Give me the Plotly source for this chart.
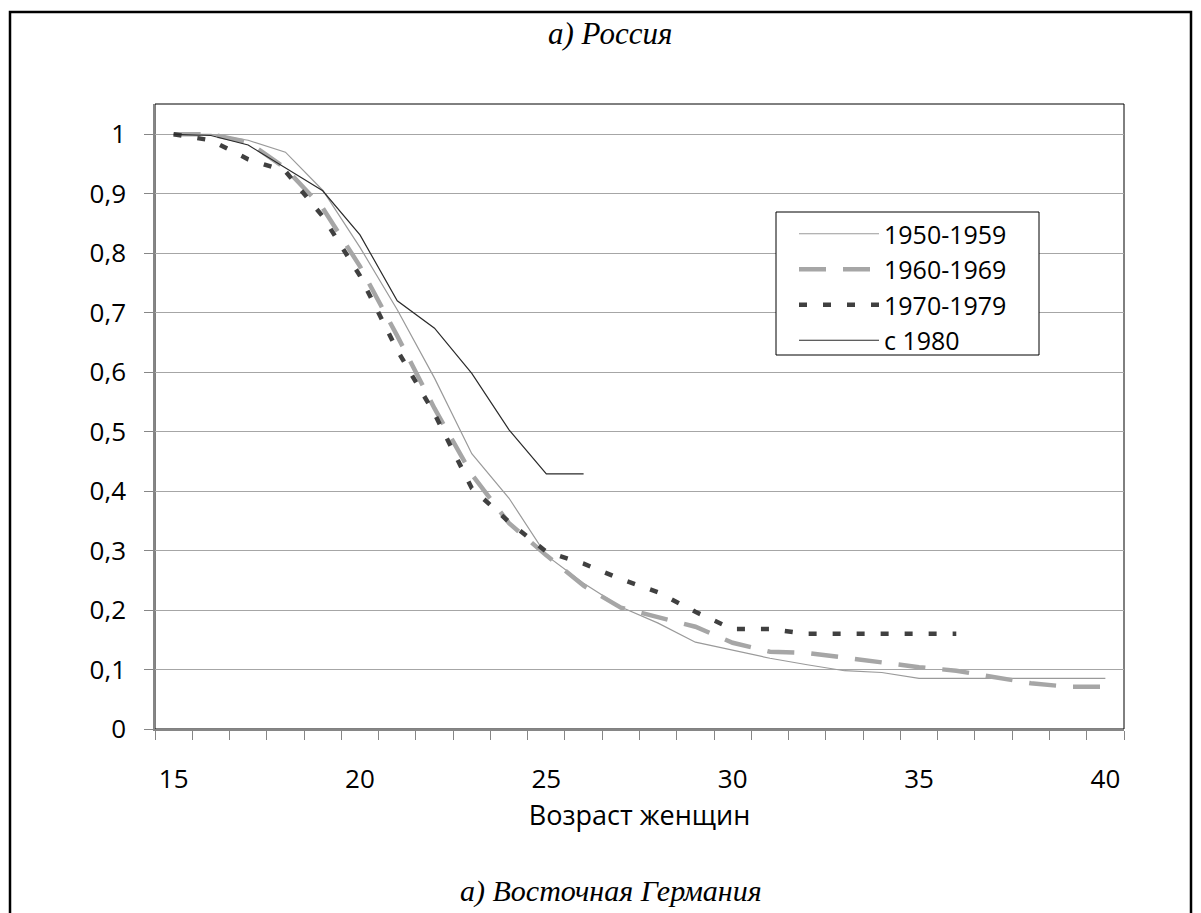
import plotly.graph_objects as go

# ---- data ----
ages_1950 = list(range(15, 41))
v_1950 = [1.0, 1.0, 0.99, 0.97, 0.906, 0.81, 0.705, 0.59, 0.463, 0.388, 0.292,
          0.245, 0.205, 0.178, 0.146, 0.132, 0.119, 0.108, 0.098, 0.095, 0.085,
          0.085, 0.085, 0.085, 0.085, 0.085]

ages_1960 = list(range(15, 41))
v_1960 = [1.0, 1.0, 0.987, 0.943, 0.876, 0.778, 0.661, 0.539, 0.428, 0.346, 0.292,
          0.241, 0.204, 0.188, 0.172, 0.145, 0.13, 0.128, 0.12, 0.112, 0.104,
          0.098, 0.088, 0.077, 0.071, 0.071]

ages_1970 = list(range(15, 37))
v_1970 = [1.0, 0.99, 0.958, 0.938, 0.862, 0.762, 0.637, 0.53, 0.405, 0.348, 0.298,
          0.278, 0.252, 0.23, 0.197, 0.168, 0.168, 0.16, 0.16, 0.16, 0.16, 0.16]

ages_1980 = list(range(15, 27))
v_1980 = [1.0, 0.998, 0.982, 0.943, 0.905, 0.831, 0.72, 0.674, 0.598, 0.503, 0.429, 0.429]

series_names = ["1950-1959", "1960-1969", "1970-1979", "с 1980"]

x_tickvals = [15, 20, 25, 30, 35, 40]
x_ticktext = ["15", "20", "25", "30", "35", "40"]
y_tickvals = [0, 0.1, 0.2, 0.3, 0.4, 0.5, 0.6, 0.7, 0.8, 0.9, 1.0]
y_ticktext = ["0", "0,1", "0,2", "0,3", "0,4", "0,5", "0,6", "0,7", "0,8", "0,9", "1"]

title_top = "а) Россия"
title_bottom = "а) Восточная Германия"
x_title = "Возраст женщин"

SANS = "Open Sans, Liberation Sans, sans-serif"
SERIF = "Liberation Serif, Times New Roman, serif"

# plot area in page pixels: x 155..1124, y 104..729 (page has 8px body margin)
PX0, PW, PY0, PH = 155, 969, 729, 625


def px(x):
    return (x - PX0) / PW


def py(y):
    return (PY0 - y) / PH


fig = go.Figure()
fig.add_trace(go.Scatter(x=ages_1950, y=v_1950, mode="lines", name=series_names[0],
                         line=dict(color="#9a9a9a", width=1.2)))
fig.add_trace(go.Scatter(x=ages_1960, y=v_1960, mode="lines", name=series_names[1],
                         line=dict(color="#a6a6a6", width=4.5, dash="27px,17px")))
fig.add_trace(go.Scatter(x=ages_1970, y=v_1970, mode="lines", name=series_names[2],
                         line=dict(color="#404040", width=4.5, dash="8px,16px")))
fig.add_trace(go.Scatter(x=ages_1980, y=v_1980, mode="lines", name=series_names[3],
                         line=dict(color="#2a2a2a", width=1.2)))

fig.update_layout(
    width=1193, height=905,
    margin=dict(l=147, r=77, t=96, b=184),
    paper_bgcolor="white", plot_bgcolor="white",
    font=dict(family=SANS, size=26, color="black"),
    showlegend=True,
    legend=dict(x=px(794), y=py(211), xanchor="left", yanchor="top",
                bgcolor="rgba(0,0,0,0)", borderwidth=0,
                font=dict(family=SANS, size=25, color="black"),
                itemwidth=80, tracegroupgap=0),
    xaxis=dict(range=[14.5, 40.5], tickvals=x_tickvals, ticktext=x_ticktext,
               ticks="", showgrid=False, zeroline=False,
               showline=True, linecolor="#868686", linewidth=1.5,
               ticklabelstandoff=26,
               minor=dict(ticks="outside", tick0=14.5, dtick=1, ticklen=9,
                          tickcolor="#868686", tickwidth=1, showgrid=False),
               title=dict(text=x_title, standoff=6,
                          font=dict(family=SANS, size=27, color="black"))),
    yaxis=dict(range=[0, 1.051], tickvals=y_tickvals, ticktext=y_ticktext,
               ticks="outside", ticklen=9, tickcolor="#868686", tickwidth=1,
               showgrid=True, gridcolor="#a6a6a6", gridwidth=1, zeroline=False,
               showline=True, linecolor="#868686", linewidth=1.5,
               ticklabelstandoff=13),
    shapes=[
        dict(type="rect", xref="paper", yref="paper", x0=0, x1=1, y0=0, y1=1,
             line=dict(color="black", width=1), layer="below"),
        dict(type="rect", xref="paper", yref="paper", x0=px(10), x1=px(1191),
             y0=py(960), y1=py(12), line=dict(color="black", width=2.5), layer="below"),
        # legend box
        dict(type="rect", xref="paper", yref="paper", x0=px(776), x1=px(1039),
             y0=py(355), y1=py(212), line=dict(color="black", width=1),
             fillcolor="white", layer="above"),
    ],
    annotations=[
        dict(text=title_top, xref="paper", yref="paper", x=px(610), y=py(33),
             xanchor="center", yanchor="middle", showarrow=False,
             font=dict(family=SERIF, size=31, color="black", style="italic")),
        dict(text=title_bottom, xref="paper", yref="paper", x=px(611), y=py(891),
             xanchor="center", yanchor="middle", showarrow=False,
             font=dict(family=SERIF, size=30, color="black", style="italic")),
    ],
)

fig.write_html("out.html")
